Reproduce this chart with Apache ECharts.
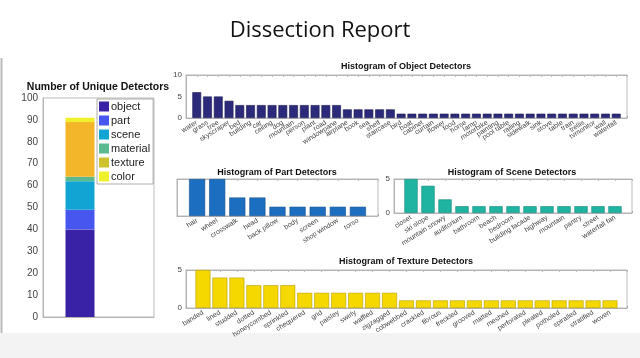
<!DOCTYPE html>
<html><head><meta charset="utf-8">
<script src="https://cdn.jsdelivr.net/npm/echarts@6/dist/echarts.min.js"></script>
<style>html,body{margin:0;padding:0;background:#fff}#c{width:640px;height:358px}</style>
</head><body><div id="c"></div>
<script>
// ---- data ----
const stackNames = ['object','part','scene','material','texture','color'];
const stackValues = [40, 9, 13, 2, 25, 2];
const stackTicks = [0,10,20,30,40,50,60,70,80,90,100];

const objectNames = ['water','grass','tree','skyscraper','bed','building','car','ceiling','dog','mountain','person','plant','road','windowpane','airplane','book','sea','shelf','staircase','bird','boat','cabinet','curtain','flower','food','horse','lamp','motorbike','painting','pool table','railing','sidewalk','sink','stove','table','train','trellis','tvmonitor','wall','waterfall'];
const objectCounts = [6,5,5,4,3,3,3,3,3,3,3,3,3,3,2,2,2,2,2,1,1,1,1,1,1,1,1,1,1,1,1,1,1,1,1,1,1,1,1,1];

const partNames = ['hair','wheel','crosswalk','head','back pillow','body','screen','shop window','torso'];
const partCounts = [4,4,2,2,1,1,1,1,1];

const sceneNames = ['closet','ski slope','mountain snowy','auditorium','bathroom','beach','bedroom','building facade','highway','mountain','pantry','street','waterfall fan'];
const sceneCounts = [5,4,2,1,1,1,1,1,1,1,1,1,1];

const textureNames = ['banded','lined','studded','dotted','honeycombed','sprinkled','chequered','grid','paisley','swirly','waffled','zigzagged','cobwebbed','crackled','fibrous','freckled','grooved','matted','meshed','perforated','pleated','potholed','spiralled','stratified','woven'];
const textureCounts = [5,4,4,3,3,3,2,2,2,2,2,2,1,1,1,1,1,1,1,1,1,1,1,1,1];

// ---- styles ----
const FONT = 'Liberation Sans';
const stackColors = ['#3a22a6','#4656ee','#12a5d4','#5bb98f','#f3b52a','#f0f02c'];
const legendColors = ['#3a22a6','#4656ee','#12a5d4','#5bb98f','#cdc22e','#f0f02c'];

const chart = echarts.init(document.getElementById('c'));

const grids = [
  {left:43, right:486, top:98, bottom:41},   // stacked
  {left:186, right:13, top:75, bottom:240},  // object
  {left:177, right:262, top:179, bottom:142},// part
  {left:394, right:8, top:179, bottom:145},  // scene
  {left:186, right:13, top:270, bottom:50}   // texture
].map(g => Object.assign({show:true, borderColor:'#aaa', borderWidth:0.8, backgroundColor:'#fff'}, g));

function pad(arr, fill){ return [fill].concat(arr, [fill]); }

const hists = [
  {names:objectNames, counts:objectCounts, max:10, showY:true, color:'#2c2a7a', border:'#1d1b52', gap:'18%'},
  {names:partNames, counts:partCounts, max:4, showY:false, color:'#1c6fc0', border:'#154f8a', gap:'20%'},
  {names:sceneNames, counts:sceneCounts, max:5, showY:true, color:'#1fb3a2', border:'#178a7c', gap:'22%'},
  {names:textureNames, counts:textureCounts, max:5, showY:true, color:'#f5d800', border:'#b89e00', gap:'12%'}
];

// stacked chart: 4 slots on an axis from 0 to 3, bar sits at slot 1
const stackSlots = ['', 'detectors', '', ''];
const xAxis = [{
  gridIndex:0, type:'category', data:stackSlots, boundaryGap:false,
  axisLabel:{show:false}, axisTick:{show:false}, splitLine:{show:false},
  axisLine:{lineStyle:{color:'#aaa', width:0.8}}
}];
const yAxis = [{
  gridIndex:0, type:'value', min:0, max:100, interval:10,
  axisLabel:{color:'#444', fontSize:10, fontFamily:FONT, margin:5},
  axisTick:{inside:true, length:2, lineStyle:{color:'#aaa'}},
  axisLine:{show:true, lineStyle:{color:'#aaa', width:0.8}}, splitLine:{show:false}
}];
const series = [];

stackNames.forEach((n,i) => {
  series.push({
    name:n, type:'bar', xAxisIndex:0, yAxisIndex:0, stack:'total', barWidth:29,
    data:stackSlots.map((s,j) => j === 1 ? stackValues[i] : '-'),
    itemStyle:{color:stackColors[i]}
  });
});

hists.forEach((h,k) => {
  const gi = k+1;
  const cats = pad(h.names, '');
  xAxis.push({
    gridIndex:gi, type:'category', data:cats, boundaryGap:false,
    axisLabel:{interval:0, rotate:32, fontSize:7, color:'#444', fontFamily:FONT, margin:4},
    axisTick:{inside:true, length:2, interval:0, lineStyle:{color:'#aaa'}},
    axisLine:{lineStyle:{color:'#aaa', width:0.8}}
  });
  xAxis.push({
    gridIndex:gi, type:'category', data:cats, boundaryGap:false, position:'top',
    axisLabel:{show:false}, axisTick:{inside:true, length:2, interval:0, lineStyle:{color:'#bbb'}},
    axisLine:{lineStyle:{color:'#aaa', width:0.8}}
  });
  yAxis.push({
    gridIndex:gi, type:'value', min:0, max:h.max, interval:5,
    axisLabel:{show:h.showY, fontSize:8, color:'#444', fontFamily:FONT, margin:4},
    axisTick:{inside:true, length:2, lineStyle:{color:'#aaa'}},
    axisLine:{show:true, lineStyle:{color:'#aaa', width:0.8}}, splitLine:{show:false}
  });
  series.push({
    type:'bar', xAxisIndex:xAxis.length-2, yAxisIndex:yAxis.length-1,
    data:pad(h.counts, '-'), barCategoryGap:h.gap,
    itemStyle:{color:h.color, borderColor:h.border, borderWidth:0.6}
  });
});

const titleBase = {padding:0, textAlign:'center', textStyle:{fontFamily:FONT, fontWeight:'bold', fontSize:9, color:'#111'}};
const titles = [
  {text:'Dissection Report', left:320, top:20, textStyle:{fontFamily:'Open Sans', fontWeight:'normal', fontSize:22, color:'#111'}},
  {text:'Number of Unique Detectors', left:98, top:82, textStyle:{fontFamily:FONT, fontWeight:'bold', fontSize:10.5, color:'#111'}},
  {text:'Histogram of Object Detectors', left:406, top:62},
  {text:'Histogram of Part Detectors', left:277, top:168},
  {text:'Histogram of Scene Detectors', left:512, top:168},
  {text:'Histogram of Texture Detectors', left:406, top:257}
].map(t => Object.assign({}, titleBase, t, {textStyle:Object.assign({}, titleBase.textStyle, t.textStyle||{})}));

chart.setOption({
  animation:false,
  backgroundColor:'#fff',
  title:titles,
  legend:{
    left:97, top:99, orient:'vertical', itemWidth:10, itemHeight:10, itemGap:3,
    padding:[2,3,2,2], borderColor:'#999', borderWidth:0.8, backgroundColor:'#fff',
    textStyle:{fontSize:11, fontFamily:FONT, color:'#222', padding:[0,0,0,-3]},
    data:stackNames.map((n,i)=>({name:n, icon:'rect', itemStyle:{color:legendColors[i]}}))
  },
  graphic:[
    {type:'rect', shape:{x:0, y:333, width:640, height:25}, style:{fill:'#f3f3f3'}, z:-10},
    {type:'line', shape:{x1:1.5, y1:58, x2:1.5, y2:333}, style:{stroke:'#bbb', lineWidth:2}}
  ],
  grid:grids,
  xAxis:xAxis,
  yAxis:yAxis,
  series:series
});
</script>
</body></html>
